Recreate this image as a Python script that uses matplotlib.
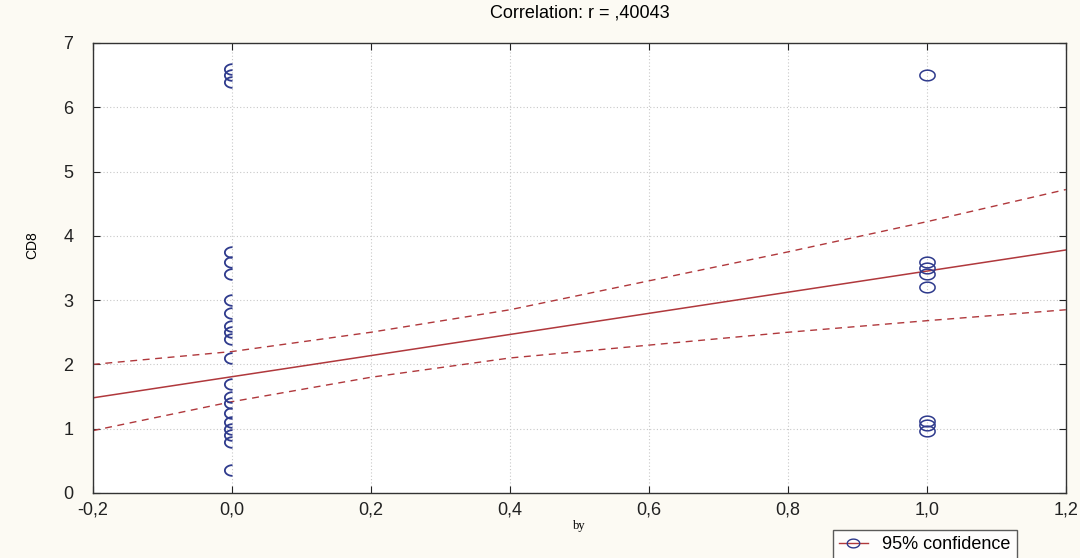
import numpy as np
import matplotlib
matplotlib.use('Agg')
import matplotlib.pyplot as plt
from matplotlib.ticker import FuncFormatter

# Datos
by_0 = [0.0] * 21
cd8_0 = [6.6, 6.5, 6.4, 3.75, 3.6, 3.4, 3.0, 2.8, 2.6, 2.5, 2.4, 2.1,
         1.7, 1.5, 1.4, 1.25, 1.1, 1.0, 0.9, 0.8, 0.35]
by_1 = [1.0] * 8
cd8_1 = [6.5, 3.6, 3.5, 3.4, 3.2, 1.12, 1.05, 0.97]

# Recta de regresion y bandas de confianza 95%
fit_x = [-0.2, 1.2]
fit_y = [1.48, 3.78]
band_x = [-0.2, 0.0, 0.2, 0.4, 0.6, 0.8, 1.0, 1.2]
band_hi = [2.0, 2.2, 2.5, 2.85, 3.3, 3.75, 4.22, 4.72]
band_lo = [0.97, 1.42, 1.8, 2.1, 2.3, 2.5, 2.68, 2.85]

plt.rcParams['font.family'] = ['Liberation Sans', 'DejaVu Sans']

# marcadores: elipse (imagen estirada) y media elipse para x=0
t = np.linspace(0, 2 * np.pi, 41)
ellipse = list(zip(np.cos(t), 0.7 * np.sin(t)))
t2 = np.linspace(0.5 * np.pi, 1.5 * np.pi, 21)
half = list(zip(np.cos(t2), 0.7 * np.sin(t2)))

fig = plt.figure(figsize=(10.8, 5.58), dpi=100, facecolor='#fcfaf3')
ax = fig.add_axes([0.086, 0.1165, 0.9009, 0.8065])
ax.set_facecolor('white')

red = '#b0383c'
blue = '#2e3a8c'

ax.plot(fit_x, fit_y, color=red, lw=1.1)
ax.plot(band_x, band_hi, color=red, lw=1.0, ls=(0, (5, 4)))
ax.plot(band_x, band_lo, color=red, lw=1.0, ls=(0, (5, 4)))

ax.plot(by_0, cd8_0, ls='none', marker=half, ms=11,
        mfc='none', mec=blue, mew=1.3, clip_on=False)
ax.plot(by_1, cd8_1, ls='none', marker=ellipse, ms=11,
        mfc='none', mec=blue, mew=1.1, clip_on=False)

ax.set_xlim(-0.2, 1.2)
ax.set_ylim(0, 7)
ax.set_xticks(np.arange(-0.2, 1.21, 0.2))
ax.set_yticks(range(0, 8))
ax.xaxis.set_major_formatter(FuncFormatter(lambda v, p: f'{v:.1f}'.replace('.', ',').replace('-0,0', '0,0')))
ax.tick_params(direction='in', length=5, labelsize=13, colors='#222222',
               top=True, right=True)
ax.tick_params(axis='y', pad=14)
ax.tick_params(axis='x', pad=6)
ax.grid(True, color='#c8c8c8', ls=(0, (1, 2)), lw=0.8)
for s in ax.spines.values():
    s.set_color('#333333')
    s.set_linewidth(1.0)

ax.set_title('Correlation: r = ,40043', fontsize=13, pad=18)
ax.set_xlabel('by', fontsize=9, family='Liberation Serif', labelpad=1)
ax.set_ylabel('CD8', fontsize=10)
ax.yaxis.set_label_coords(-0.055, 0.55)

leg_line, = ax.plot([], [], color=red, lw=1, marker=ellipse, mfc='none', mec=blue, ms=9)
leg = fig.legend([leg_line], ['95% confidence'], loc='upper left',
                 bbox_to_anchor=(0.771, 0.05), frameon=True, fancybox=False,
                 fontsize=13, handlelength=1.6, borderpad=0.35, borderaxespad=0)
leg.get_frame().set_edgecolor('#333333')
leg.get_frame().set_linewidth(1.0)

fig.savefig('out.png', dpi=100, facecolor=fig.get_facecolor())
